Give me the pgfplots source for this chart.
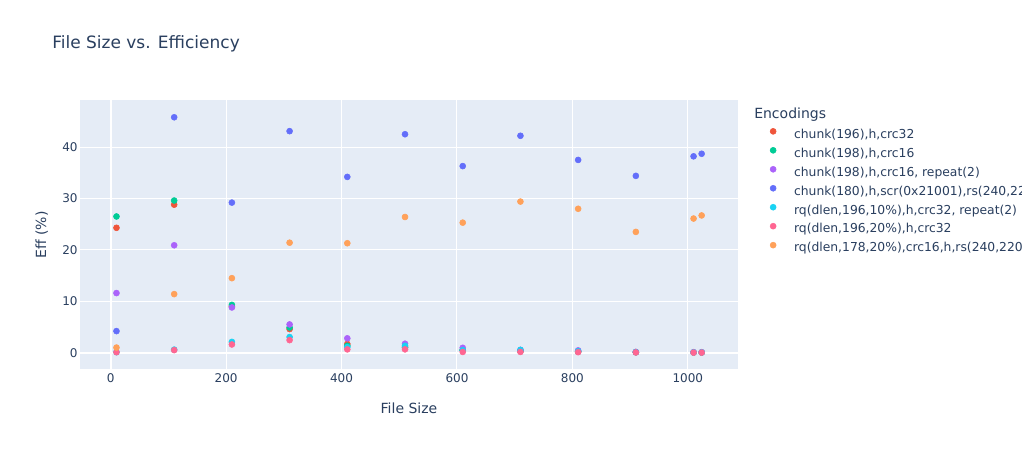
\documentclass[border=0pt]{standalone}
\usepackage{fontspec}
\setmainfont{DejaVu Sans}
\usepackage{pgfplots}
\pgfplotsset{compat=1.18}
\definecolor{plotbg}{HTML}{E5ECF6}
\definecolor{txt}{HTML}{2A3F5F}
\definecolor{cRed}{HTML}{EF553B}
\definecolor{cGreen}{HTML}{00CC96}
\definecolor{cPurple}{HTML}{AB63FA}
\definecolor{cBlue}{HTML}{636EFA}
\definecolor{cCyan}{HTML}{19D3F3}
\definecolor{cPink}{HTML}{FF6692}
\definecolor{cOrange}{HTML}{FFA15A}
\begin{document}
\begin{tikzpicture}
\clip (0pt,0pt) rectangle (766.5pt,337.5pt);
\fill[white] (0pt,0pt) rectangle (766.5pt,337.5pt);
\begin{axis}[
  at={(60pt,60.75pt)}, anchor=south west,
  scale only axis, width=493.5pt, height=201.75pt,
  xmin=-53.2, xmax=1087, ymin=-3.17, ymax=49.16,
  axis background/.style={fill=plotbg},
  axis line style={draw=none},
  major tick length=0pt,
  grid=major, grid style={white, line width=0.75pt},
  xtick={0,200,400,600,800,1000},
  ytick={0,10,20,30,40},
  extra x ticks={0}, extra x tick labels={},
  extra x tick style={grid style={white, line width=1.5pt}},
  extra y ticks={0}, extra y tick labels={},
  extra y tick style={grid style={white, line width=1.5pt}},
  /pgf/number format/assume math mode=true,
  /pgf/number format/1000 sep={},
  tick label style={font=\fontsize{9}{10}\selectfont, text=txt},
  xticklabel style={yshift=0pt},
  yticklabel style={xshift=1.7pt},
  every axis plot/.append style={only marks, mark=*, mark size=2.25pt},
  legend style={draw=none, fill=none, at={(1.0445,0.8956)}, anchor=north west,
    font=\fontsize{9.25}{10}\selectfont, text=txt, row sep=4.875pt, inner sep=0pt,
    nodes={inner sep=0pt, text height=7pt, text depth=2pt}},
  legend cell align=left,
  legend image code/.code={\draw[#1, mark size=2.25pt] plot coordinates {(0pt,2.6pt)}; \path (-4pt,0pt) (15.5pt,0pt);},
]
\addplot[cRed, mark options={fill=cRed, draw=cRed}] coordinates {
(10,24.3) (110,28.8) (210,9.0) (310,4.6) (410,1.7) (510,1.1) (610,0.5) (710,0.3) (810,0.2) (910,0.1) (1010,0.05) (1024,0.05)};
\addlegendentry{chunk(196),h,crc32}
\addplot[cGreen, mark options={fill=cGreen, draw=cGreen}] coordinates {
(10,26.5) (110,29.6) (210,9.3) (310,4.9) (410,1.35) (510,1.0) (610,0.5) (710,0.3) (810,0.2) (910,0.1) (1010,0.05) (1024,0.05)};
\addlegendentry{chunk(198),h,crc16}
\addplot[cPurple, mark options={fill=cPurple, draw=cPurple}] coordinates {
(10,11.6) (110,20.9) (210,8.8) (310,5.5) (410,2.8) (510,1.75) (610,0.95) (710,0.55) (810,0.45) (910,0.15) (1010,0.1) (1024,0.1)};
\addlegendentry{chunk(198),h,crc16, repeat(2)}
\addplot[cBlue, mark options={fill=cBlue, draw=cBlue}] coordinates {
(10,4.2) (110,45.8) (210,29.2) (310,43.1) (410,34.2) (510,42.5) (610,36.3) (710,42.2) (810,37.5) (910,34.4) (1010,38.2) (1024,38.7)};
\addlegendentry{chunk(180),h,scr(0x21001),rs(240,220)}
\addplot[cCyan, mark options={fill=cCyan, draw=cCyan}] coordinates {
(10,0.1) (110,0.6) (210,2.1) (310,3.05) (410,1.1) (510,1.35) (610,0.5) (710,0.55) (810,0.3) (910,0.1) (1010,0.05) (1024,0.05)};
\addlegendentry{rq(dlen,196,10\%),h,crc32, repeat(2)}
\addplot[cPink, mark options={fill=cPink, draw=cPink}] coordinates {
(10,0.1) (110,0.5) (210,1.6) (310,2.45) (410,0.65) (510,0.65) (610,0.15) (710,0.15) (810,0.1) (910,0.05) (1010,0.02) (1024,0.02)};
\addlegendentry{rq(dlen,196,20\%),h,crc32}
\addplot[cOrange, mark options={fill=cOrange, draw=cOrange}] coordinates {
(10,1.0) (110,11.4) (210,14.5) (310,21.4) (410,21.3) (510,26.4) (610,25.3) (710,29.4) (810,28.0) (910,23.5) (1010,26.1) (1024,26.7)};
\addlegendentry{rq(dlen,178,20\%),crc16,h,rs(240,220)}
\end{axis}
\begin{scope}[x=0.75pt, y=0.75pt]
\node[anchor=west, text=txt, font=\fontsize{12.75}{14}\selectfont, inner sep=0pt] at (52,406) {File Size vs. Efficiency};
\node[text=txt, font=\fontsize{10.5}{12}\selectfont, inner sep=0pt] at (409,42) {File Size};
\node[text=txt, font=\fontsize{10.5}{12}\selectfont, inner sep=0pt, rotate=90] at (41.7,215) {Eff (\%)};
\node[anchor=west, text=txt, font=\fontsize{10.5}{12}\selectfont, inner sep=0pt] at (754,335) {Encodings};
\end{scope}
\end{tikzpicture}
\end{document}
